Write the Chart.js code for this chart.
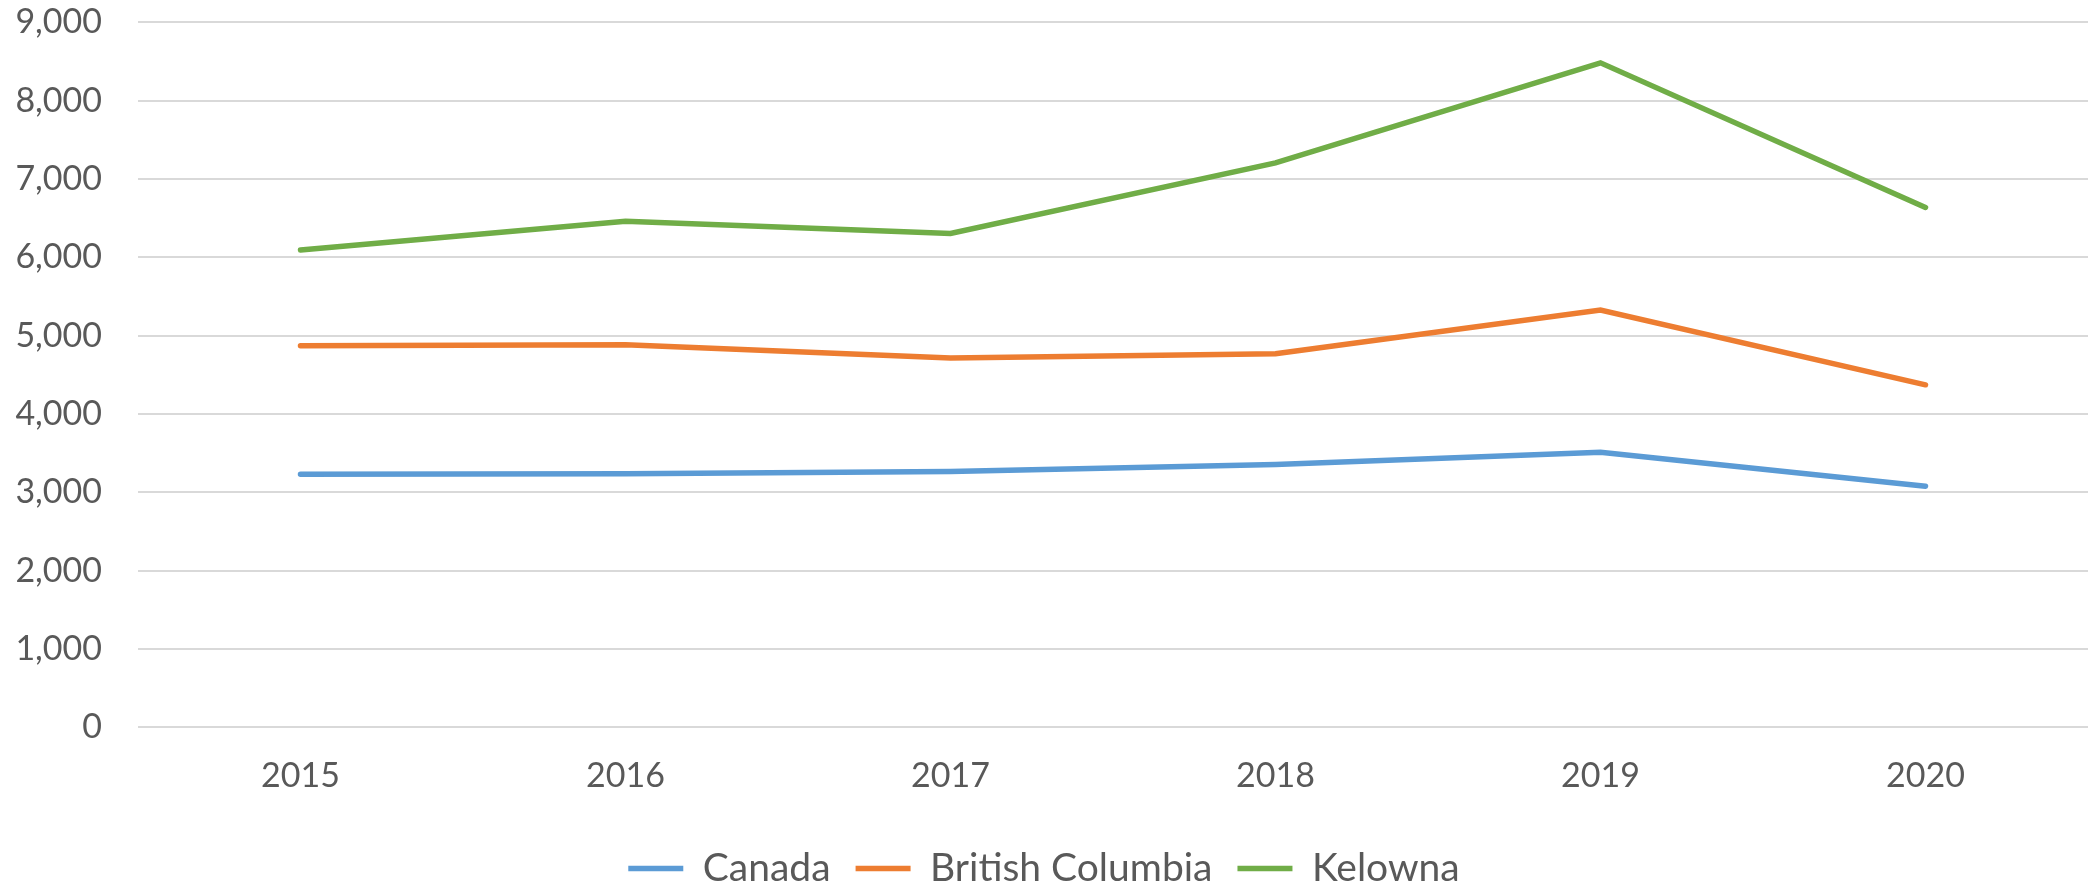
<!DOCTYPE html>
<html>
<head>
<meta charset="utf-8">
<script src="https://cdn.jsdelivr.net/npm/chart.js@4/dist/chart.umd.min.js"></script>
<style>
  html, body { margin: 0; padding: 0; background: #fff; overflow: hidden; }
  #wrap { width: 2088px; height: 917px; margin-top: -34px; }
</style>
</head>
<body>
<div id="wrap"><canvas id="grafico"></canvas></div>
<script>
const anos = ['2015', '2016', '2017', '2018', '2019', '2020'];
const canada = [3231, 3237, 3266, 3354, 3511, 3076];
const britishColumbia = [4870, 4885, 4713, 4770, 5327, 4372];
const kelowna = [6093, 6462, 6305, 7206, 8484, 6637];
const yTicks = [0, 1000, 2000, 3000, 4000, 5000, 6000, 7000, 8000, 9000];

const fonte = "Lato, 'Open Sans', sans-serif";
const corTexto = '#595959';

function serie(label, data, cor) {
  return {
    label: label,
    data: data,
    borderColor: cor,
    backgroundColor: cor,
    borderWidth: 5.5,
    borderCapStyle: 'round',
    borderJoinStyle: 'miter',
    pointRadius: 0,
    pointHoverRadius: 0,
    tension: 0,
    fill: false
  };
}

new Chart(document.getElementById('grafico').getContext('2d'), {
  type: 'line',
  data: {
    labels: anos,
    datasets: [
      serie('Canada', canada, '#5B9BD5'),
      serie('British Columbia', britishColumbia, '#ED7D31'),
      serie('Kelowna', kelowna, '#70AD47')
    ]
  },
  options: {
    responsive: true,
    maintainAspectRatio: false,
    animation: false,
    layout: { padding: { top: 0, right: 0, bottom: -15, left: 0 } },
    scales: {
      x: {
        offset: true,
        grid: { display: false, drawTicks: false },
        border: { display: false },
        ticks: { color: corTexto, font: { family: fonte, size: 34 }, padding: 28 }
      },
      y: {
        min: 0,
        max: 9000,
        afterBuildTicks: (scale) => { scale.ticks = yTicks.map(v => ({ value: v })); },
        afterFit: (scale) => { scale.width = 138; },
        grid: { color: '#D9D9D9', lineWidth: 2, drawTicks: false },
        border: { display: false },
        ticks: {
          color: corTexto,
          font: { family: fonte, size: 34 },
          padding: 36,
          callback: (v) => v.toLocaleString('en-US')
        }
      }
    },
    plugins: {
      legend: {
        position: 'bottom',
        labels: {
          color: corTexto,
          font: { family: fonte, size: 39 },
          usePointStyle: true,
          pointStyle: 'line',
          pointStyleWidth: 55,
          padding: 25
        }
      },
      tooltip: { enabled: false }
    }
  }
});
</script>
</body>
</html>
